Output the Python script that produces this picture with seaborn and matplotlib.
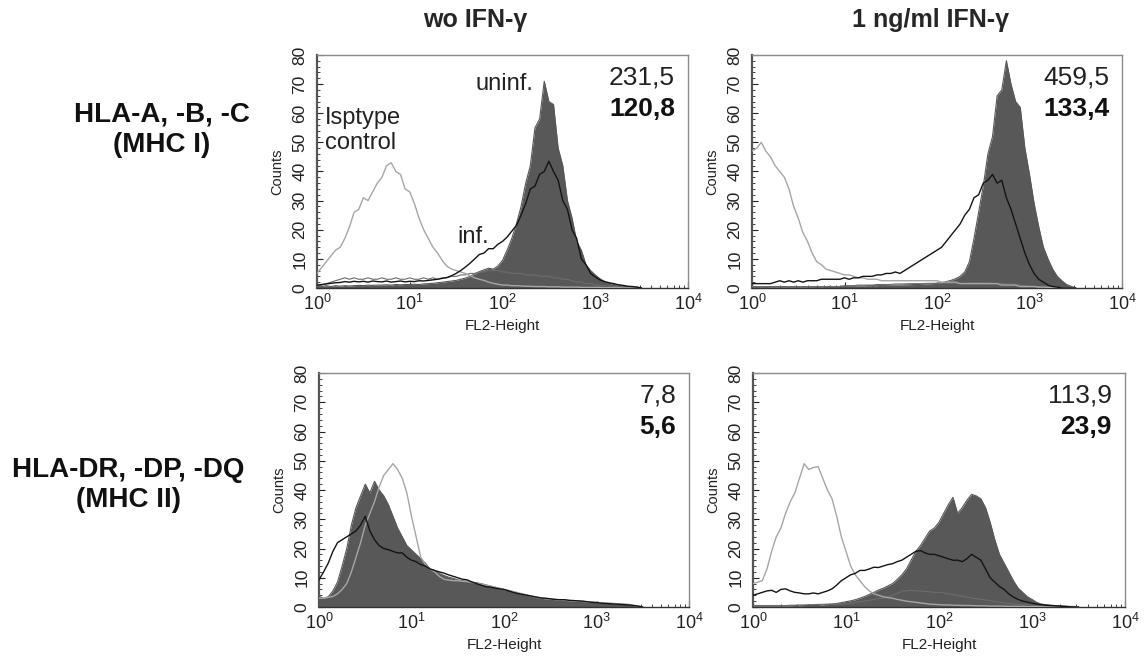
import numpy as np
import matplotlib
matplotlib.use("Agg")
import matplotlib.pyplot as plt
import seaborn as sns
from matplotlib.ticker import MultipleLocator, LogLocator, NullFormatter

# histogram channels: log10(FL2-Height) from 0 to 3.5, step 0.05
log_fl2 = [round(0.05 * i, 2) for i in range(71)]

# --- MHC I, without IFN-gamma ---
mhc1_wo_uninf = [1.0, 0.5, 0.8, 0.5, 0.8, 0.6, 0.8, 0.7, 0.8, 0.9,
                 0.8, 1.0, 0.9, 1.0, 1.0, 1.1, 1.0, 1.2, 1.1, 1.2,
                 1.2, 1.3, 1.2, 1.4, 1.5, 1.6, 1.8, 2.0, 2.2, 2.4,
                 2.6, 3.0, 3.4, 4.0, 4.8, 5.6, 6.2, 6.8, 6.5, 7.5,
                 9.5, 13, 17, 22, 28, 36, 42, 55, 58, 71,
                 64, 63, 48, 42, 30, 24, 16, 13, 8, 6,
                 4.5, 3.2, 2.2, 1.6, 1.2, 1.0, 0.6, 0.5, 0.4, 0.3,
                 0.0]
mhc1_wo_inf = [1.0, 1.2, 1.4, 1.6, 1.8, 1.9, 2.2, 2.0, 2.3, 2.1,
               2.3, 2.0, 2.4, 2.2, 2.1, 2.4, 2.0, 2.2, 2.4, 2.1,
               2.3, 2.2, 2.5, 2.4, 2.6, 2.8, 3.0, 3.3, 3.6, 4.2,
               5.0, 6.0, 7.2, 8.5, 10, 11.5, 12, 13.5, 13.5, 15,
               16, 17.5, 19.5, 21.5, 25, 29, 34, 35, 39, 40,
               43.5, 40, 37, 30, 27, 20, 17, 10, 8, 5,
               3.8, 2.8, 2.2, 1.8, 1.5, 1.1, 0.9, 0.6, 0.5, 0.3,
               0.0]
mhc1_wo_iso = [5, 7, 9, 11, 13, 14, 17, 21, 26, 27,
               31, 30, 33, 36, 38, 42, 43, 40, 39, 34,
               33, 29, 24, 20, 17, 14, 12, 9.5, 7.5, 6.5,
               6, 5.5, 5, 4.2, 3.5, 3.0, 2.6, 2.0, 1.6, 1.3,
               1.0, 1.0, 0.8, 0.8, 0.7, 0.6, 0.6, 0.5, 0.5, 0.5,
               0.4, 0.4, 0.4, 0.3, 0.3, 0.3, 0.3, 0.2, 0.2, 0.2,
               0.2, 0.2, 0.1, 0.1, 0.1, 0.1, 0, 0, 0, 0,
               0]
mhc1_wo_iso_inf = [0.5, 1.0, 1.5, 2.0, 2.5, 3.0, 3.5, 3.0, 3.5, 3.0,
                   3.0, 3.5, 3.0, 3.0, 3.5, 3.0, 3.0, 3.5, 3.0, 3.0,
                   3.5, 3.0, 3.0, 3.5, 3.0, 3.5, 3.0, 3.5, 3.5, 4.0,
                   4.0, 4.5, 4.5, 5.0, 5.0, 5.5, 5.5, 6.0, 6.0, 6.0,
                   5.5, 5.5, 5.0, 5.0, 5.0, 4.5, 4.5, 4.5, 4.0, 4.0,
                   4.0, 3.5, 3.5, 3.0, 3.0, 2.5, 2.0, 2.0, 1.5, 1.5,
                   1.0, 1.0, 0.8, 0.6, 0.5, 0.4, 0.3, 0.2, 0.2, 0.1,
                   0.0]

# --- MHC I, 1 ng/ml IFN-gamma ---
mhc1_ifn_uninf = [0.3, 0.2, 0.3, 0.2, 0.3, 0.3, 0.3, 0.3, 0.3, 0.4,
                  0.3, 0.4, 0.4, 0.4, 0.5, 0.4, 0.5, 0.5, 0.5, 0.5,
                  0.6, 0.6, 0.6, 0.7, 0.7, 0.8, 0.8, 0.8, 0.9, 0.9,
                  1.0, 1.0, 1.0, 1.1, 1.1, 1.2, 1.2, 1.3, 1.4, 1.5,
                  1.6, 1.8, 2.2, 2.6, 3.2, 4.0, 5.5, 9, 17, 26,
                  35, 46, 52, 66, 68, 78, 70, 64, 62, 48,
                  39, 29, 21, 14, 10, 6.5, 4, 2.5, 1.2, 0.6,
                  0]
mhc1_ifn_inf = [1.5, 1.5, 1.5, 1.5, 1.5, 2.0, 2.5, 2.0, 2.5, 2.0,
                2.5, 2.0, 2.5, 2.5, 2.5, 3.0, 3.0, 3.0, 3.0, 3.0,
                3.5, 3.0, 3.5, 3.5, 4.0, 4.0, 4.0, 4.5, 4.5, 5.0,
                5.0, 5.5, 5.0, 6.0, 7.0, 8.0, 9.0, 10, 11, 12,
                13, 14, 16, 18, 20, 22, 25, 27, 31, 32,
                36, 37, 39, 36, 37, 31, 27, 22, 17, 12,
                8, 5, 3, 2, 1, 0.5, 0.3, 0, 0, 0,
                0]
mhc1_ifn_iso = [47, 48, 50, 47, 45, 42, 40, 38, 34, 28,
                24, 19, 16, 12, 9, 8, 6.5, 6, 5.5, 5,
                4.5, 4.5, 4, 3.5, 3.5, 3, 3, 3, 2.5, 2.5,
                2.5, 2.5, 2.5, 2.5, 2.5, 2.5, 2.5, 2.5, 2.5, 2.5,
                2.5, 2, 2, 2, 2, 1.5, 1.5, 1.5, 1.5, 1.5,
                1.5, 1.5, 1.5, 1.5, 1, 1, 1, 1, 0.5, 0.5,
                0.5, 0.5, 0.3, 0.3, 0.2, 0.2, 0.1, 0, 0, 0,
                0]
mhc1_ifn_iso_inf = [0.5, 0.5, 0.5, 0.5, 0.5, 0.5, 0.5, 0.5, 0.5, 0.5,
                    0.5, 0.5, 0.5, 0.5, 0.5, 0.5, 0.5, 0.5, 0.5, 0.5,
                    0.8, 0.8, 0.8, 1.0, 1.0, 1.0, 1.0, 1.2, 1.2, 1.2,
                    1.2, 1.4, 1.4, 1.4, 1.5, 1.5, 1.5, 1.5, 1.6, 1.6,
                    1.6, 1.6, 1.6, 1.6, 1.6, 1.6, 1.6, 1.8, 1.8, 1.8,
                    1.8, 1.8, 1.6, 1.6, 1.6, 1.4, 1.4, 1.2, 1.0, 0.8,
                    0.6, 0.5, 0.4, 0.3, 0.2, 0.1, 0, 0, 0, 0,
                    0]

# --- MHC II, without IFN-gamma ---
mhc2_wo_uninf = [3.6, 3.0, 3.5, 5.5, 8.5, 14, 20, 28, 34, 38,
                 42, 39, 43, 40, 38, 35, 31, 27, 24, 21,
                 19.5, 18, 16.5, 15, 13, 12.5, 11.5, 10.8, 10.2, 9.8,
                 9.3, 9.0, 8.8, 8.5, 8.3, 8.0, 7.6, 7.2, 6.8, 6.4,
                 6.0, 5.6, 5.2, 4.8, 4.4, 4.0, 3.6, 3.2, 3.0, 2.8,
                 2.7, 2.5, 2.4, 2.3, 2.2, 2.1, 2.0, 1.9, 1.7, 1.6,
                 1.5, 1.4, 1.3, 1.2, 1.1, 1.0, 0.9, 0.8, 0.5, 0.2,
                 0]
mhc2_wo_inf = [9.3, 12, 15, 19, 22, 23, 24, 25, 26, 28,
               31, 26, 23, 21, 20, 19.6, 19, 18.5, 18.5, 17,
               16, 15.5, 14.5, 14, 13, 12.5, 12, 11.6, 11, 10.5,
               10, 9.5, 9.3, 8.6, 8.0, 7.5, 7.0, 6.8, 6.5, 6.2,
               6.0, 5.5, 5.0, 4.6, 4.3, 4.0, 3.7, 3.4, 3.1, 3.0,
               2.8, 2.6, 2.5, 2.5, 2.3, 2.2, 2.1, 2.0, 1.8, 1.6,
               1.5, 1.3, 1.2, 1.1, 1.0, 0.9, 0.8, 0.7, 0.5, 0.3,
               0]
mhc2_wo_iso = [3.0, 3.0, 3.3, 3.6, 4.5, 6, 8, 12, 17, 22,
               28, 32, 36, 41, 45, 47, 49, 47, 44, 39,
               31, 24, 17, 14.5, 13, 12, 10.5, 9.5, 9.2, 9.0,
               9.0, 8.8, 8.7, 8.4, 8.1, 7.8, 7.5, 7.2, 6.8, 6.4,
               6.0, 5.7, 5.3, 4.9, 4.5, 4.1, 3.7, 3.4, 3.1, 2.9,
               2.7, 2.6, 2.4, 2.3, 2.2, 2.1, 2.0, 1.9, 1.8, 1.7,
               1.6, 1.5, 1.4, 1.3, 1.2, 1.1, 1.0, 0.9, 0.6, 0.3,
               0]

# --- MHC II, 1 ng/ml IFN-gamma ---
mhc2_ifn_uninf = [0.4, 0.3, 0.4, 0.3, 0.4, 0.4, 0.3, 0.4, 0.4, 0.5,
                  0.4, 0.5, 0.5, 0.5, 0.5, 0.7, 0.8, 1.0, 1.2, 1.5,
                  1.8, 2.1, 2.5, 3.0, 3.6, 4.3, 5.0, 5.8, 6.4, 7.2,
                  8.0, 9.4, 11, 13, 16, 19, 21, 23.5, 26, 27,
                  29, 32, 35, 37.5, 32, 34, 36.5, 38.5, 38, 37,
                  34, 29, 23, 18, 15, 12, 9, 6.5, 5, 3.5,
                  2.6, 1.6, 1.0, 0.8, 0.6, 0.5, 0.4, 0.3, 0.2, 0.2,
                  0]
mhc2_ifn_inf = [4.0, 4.5, 5.0, 5.5, 5.7, 5.0, 6.0, 6.2, 5.5, 5.0,
                4.8, 4.5, 4.5, 4.8, 4.5, 5.0, 5.5, 6.2, 7.5, 9.0,
                10, 11, 11.5, 12.5, 12.5, 13, 13.6, 13.5, 14, 14.5,
                14.8, 15.5, 16, 17, 18, 19, 19.3, 18.5, 18, 18,
                17.5, 17, 16.5, 16, 16, 15.5, 16.5, 18, 17, 16,
                13, 10, 8.5, 7, 6, 4.5, 3.4, 2.6, 2.0, 1.7,
                1.3, 1.0, 0.8, 0.6, 0.5, 0.4, 0.3, 0.2, 0.1, 0,
                0]
mhc2_ifn_iso = [8, 8.5, 9, 13, 19, 24, 27, 32, 36, 39,
                44, 49, 47, 47.7, 48, 44, 40, 37, 31, 24,
                19, 14, 11, 9, 7, 5.5, 4.5, 4, 3.5, 3.2,
                3.0, 2.6, 2.3, 2.0, 1.8, 1.6, 1.4, 1.2, 1.0, 0.9,
                0.8, 0.7, 0.7, 0.6, 0.6, 0.5, 0.5, 0.5, 0.4, 0.4,
                0.4, 0.3, 0.3, 0.3, 0.3, 0.2, 0.2, 0.2, 0.2, 0.1,
                0.1, 0.1, 0.1, 0, 0, 0, 0, 0, 0, 0,
                0]
mhc2_ifn_iso_inf = [0.5, 0.5, 0.5, 0.5, 0.5, 0.5, 0.5, 0.5, 0.6, 0.6,
                    0.7, 0.7, 0.8, 0.8, 0.9, 0.9, 1.0, 1.0, 1.0, 1.0,
                    1.0, 1.2, 1.5, 1.8, 2.0, 2.3, 2.6, 3.0, 3.0, 3.5,
                    4.0, 4.5, 5.5, 5.5, 5.7, 5.5, 5.5, 5.3, 5.2, 5.0,
                    5.0, 4.8, 4.5, 4.2, 4.0, 3.7, 3.4, 3.1, 2.8, 2.6,
                    2.4, 2.2, 1.8, 1.6, 1.4, 1.2, 1.0, 0.9, 0.8, 0.7,
                    0.5, 0.4, 0.3, 0.2, 0.2, 0.1, 0.1, 0, 0, 0,
                    0]

col_titles = ["wo IFN-\u03b3", "1 ng/ml IFN-\u03b3"]
row_titles = ["HLA-A, -B, -C\n(MHC I)", "HLA-DR, -DP, -DQ\n(MHC II)"]
mfi_uninf = ["231,5", "459,5", "7,8", "113,9"]
mfi_inf = ["120,8", "133,4", "5,6", "23,9"]

FILL = "#585858"
INF = "#141414"
ISO = "#a6a6a6"
ISO_INF = "#6c6c6c"

sns.set_theme(style="white")
plt.rcParams["font.family"] = ["Liberation Sans", "DejaVu Sans"]
plt.rcParams["mathtext.fontset"] = "custom"
plt.rcParams["mathtext.rm"] = "Liberation Sans"
plt.rcParams["mathtext.it"] = "Liberation Sans:italic"

W, H = 1145, 660
fig = plt.figure(figsize=(W / 100, H / 100), dpi=100)


def px_axes(x0, y0, x1, y1):
    return fig.add_axes([x0 / W, 1 - y1 / H, (x1 - x0) / W, (y1 - y0) / H])


panels = [
    (px_axes(317, 55, 688, 288), mhc1_wo_uninf, mhc1_wo_inf, mhc1_wo_iso, mhc1_wo_iso_inf),
    (px_axes(752, 55, 1122, 288), mhc1_ifn_uninf, mhc1_ifn_inf, mhc1_ifn_iso, mhc1_ifn_iso_inf),
    (px_axes(319, 373, 689, 607), mhc2_wo_uninf, mhc2_wo_inf, mhc2_wo_iso, None),
    (px_axes(753, 373, 1125, 607), mhc2_ifn_uninf, mhc2_ifn_inf, mhc2_ifn_iso, mhc2_ifn_iso_inf),
]

xs = 10 ** np.array(log_fl2)

for k, (ax, uninf, inf, iso, iso_inf) in enumerate(panels):
    ax.fill_between(xs[:len(uninf)], uninf, color=FILL, lw=0, zorder=1)
    sns.lineplot(x=xs[:len(uninf)], y=uninf, ax=ax, color=FILL, lw=0.8, zorder=2)
    if iso_inf is not None:
        sns.lineplot(x=xs[:len(iso_inf)], y=iso_inf, ax=ax, color=ISO_INF, lw=0.8, zorder=3)
    sns.lineplot(x=xs[:len(iso)], y=iso, ax=ax, color=ISO, lw=1.0, zorder=4)
    sns.lineplot(x=xs[:len(inf)], y=inf, ax=ax, color=INF, lw=1.0, zorder=5)

    ax.set_xscale("log")
    ax.set_xlim(1, 1e4)
    ax.set_ylim(0, 80)
    ax.xaxis.set_major_locator(LogLocator(base=10, numticks=10))
    ax.xaxis.set_minor_locator(LogLocator(base=10, subs=np.arange(2, 10), numticks=20))
    ax.xaxis.set_minor_formatter(NullFormatter())
    ax.set_yticks(range(0, 81, 10))
    ax.yaxis.set_minor_locator(MultipleLocator(2))
    ax.tick_params(axis="both", which="both", direction="in", bottom=True, left=True,
                   colors="#222222")
    ax.tick_params(axis="both", which="major", length=4, width=0.8)
    ax.tick_params(axis="both", which="minor", length=2, width=0.6)
    ax.tick_params(axis="x", which="major", labelsize=13, pad=4)
    ax.tick_params(axis="y", which="major", labelsize=12.5, labelrotation=90, pad=7)
    for lab in ax.get_yticklabels():
        lab.set_va("center")
    for side, sp in ax.spines.items():
        sp.set_color("#8a8a8a")
        sp.set_linewidth(1.0)
    ax.spines["left"].set_color("#555555")
    ax.spines["left"].set_linewidth(1.6)
    ax.spines["bottom"].set_color("#333333")

    ax.set_xlabel("FL2-Height", fontsize=11, labelpad=4, color="#222222")
    ax.set_ylabel("Counts", fontsize=10.5, labelpad=6, color="#222222")

    ax.text(0.965, 0.905, mfi_uninf[k], transform=ax.transAxes, ha="right", va="center",
            fontsize=19, color="#222222")
    ax.text(0.965, 0.77, mfi_inf[k], transform=ax.transAxes, ha="right", va="center",
            fontsize=19, fontweight="bold", color="#111111")

# curve labels in the first panel
ax0 = panels[0][0]
ax0.text(10 ** 2.33, 68, "uninf.", ha="right", va="baseline", fontsize=17, color="#222222")
ax0.text(10 ** 0.09, 54, "Isptype\ncontrol", ha="left", va="center", fontsize=17,
         color="#222222", linespacing=1.15)
ax0.text(10 ** 1.51, 15.5, "inf.", ha="left", va="baseline", fontsize=17, color="#222222")

for cx, title in zip([475, 930], col_titles):
    fig.text(cx / W, 1 - 20 / H, title, ha="center", va="center", fontsize=18,
             fontweight="bold", family=["Liberation Sans Narrow", "Liberation Sans", "DejaVu Sans"])

for (cx, cy), title in zip([(162, 130), (128, 485)], row_titles):
    fig.text(cx / W, 1 - cy / H, title, ha="center", va="center", fontsize=20,
             fontweight="bold", linespacing=1.2, color="#111111")

fig.savefig("out.png", dpi=100, facecolor="white")
